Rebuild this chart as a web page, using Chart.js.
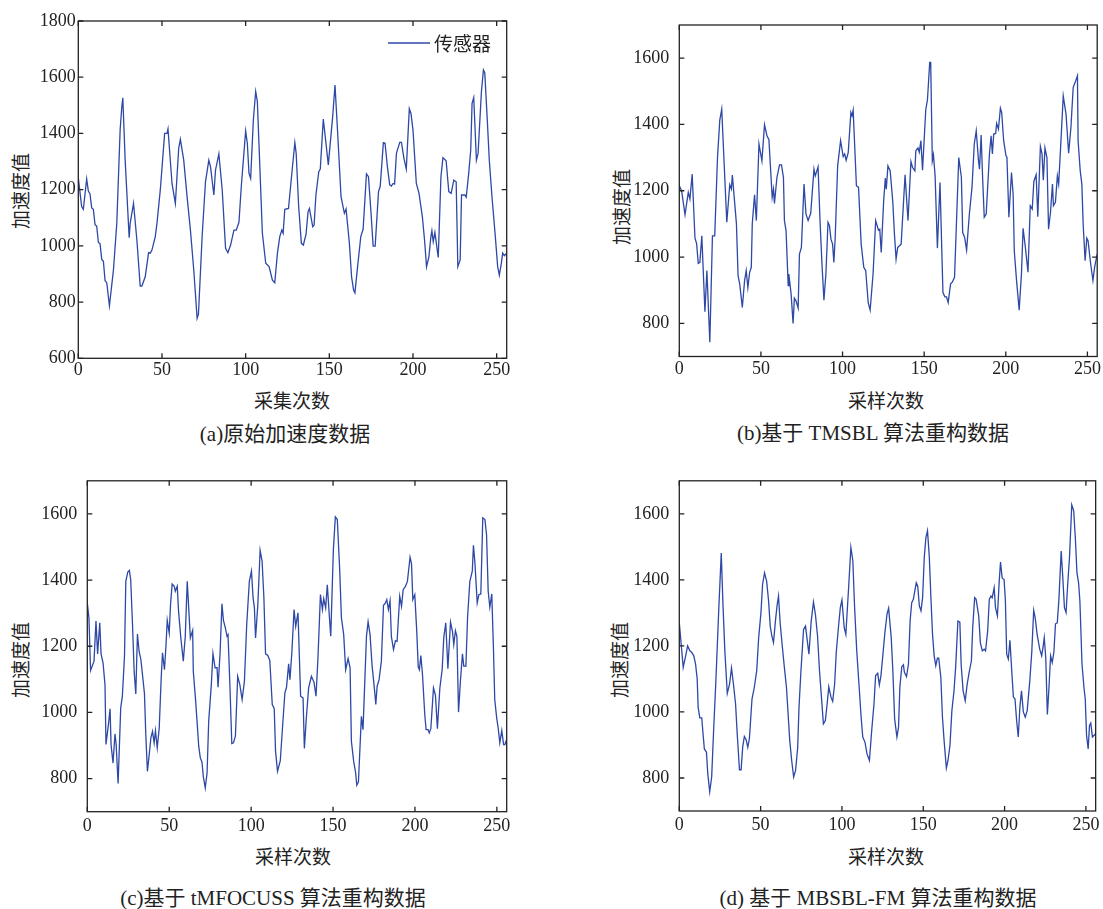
<!DOCTYPE html>
<html><head><meta charset="utf-8">
<script src="https://cdn.jsdelivr.net/npm/chart.js@4.4.1/dist/chart.umd.min.js"></script>
<style>
body{margin:0;width:1103px;height:909px;background:#fff;position:relative;overflow:hidden;font-family:"Liberation Serif","Noto Sans CJK SC",serif;color:#222}
canvas{position:absolute}
.t{position:absolute;transform:translate(-50%,-50%);white-space:nowrap;font-size:19px;line-height:1}
.cap{font-size:21px}
.yt{transform:translate(-50%,-50%) rotate(-90deg)}
</style></head><body>
<div class="t yt" style="left:21px;top:191px">加速度值</div>
<div class="t" style="left:292px;top:401px">采集次数</div>
<div class="t cap" style="left:285px;top:434px">(a)原始加速度数据</div>
<div class="t yt" style="left:622px;top:207px">加速度值</div>
<div class="t" style="left:886px;top:401px">采样次数</div>
<div class="t cap" style="left:873px;top:433px">(b)基于 TMSBL 算法重构数据</div>
<div class="t yt" style="left:21px;top:660px">加速度值</div>
<div class="t" style="left:293px;top:857px">采样次数</div>
<div class="t cap" style="left:273px;top:898px">(c)基于 tMFOCUSS 算法重构数据</div>
<div class="t yt" style="left:620px;top:660px">加速度值</div>
<div class="t" style="left:886px;top:857px">采样次数</div>
<div class="t cap" style="left:878px;top:898px">(d) 基于 MBSBL-FM 算法重构数据</div>
<script>
const xTicks = [0, 50, 100, 150, 200, 250];
const yTicksA = [600, 800, 1000, 1200, 1400, 1600, 1800];
const yTicksB = [800, 1000, 1200, 1400, 1600];
const seriesLabel = "传感器";

const xA = [0,2,3,5,6,7,8,9,10,11,12,13,14,15,16,17,18.6,21,23,25,26,26.6,28,30.4,31,33,35,37,38,40,42,43,44,46,47,49,51.6,53,53.6,56,58,60,61,63,65,67,69,71,71.8,74,76,78,79,81,82,84,86,88,89.4,91,93,94.4,96,97.4,100,101,102,103,104.6,106,107,110,112,114,116,117.4,119,120.4,121.6,122.4,123.4,125.6,127.8,129.4,130.2,131.7,133.3,134.5,136.1,137.3,138.1,140.1,140.9,142,143.7,144.6,146.4,148,149.4,152,153.4,155,157,159,160,162,163.3,164.5,165.3,166.9,168.8,170.2,172.2,173.4,174.8,176.2,177.4,179.4,180.4,182.3,183.3,184.7,186.1,187.1,188.1,189,190.1,192.1,193.1,194.6,196,197.8,198.8,200,202,203.6,205.6,206.9,208.1,209.5,210.7,211.3,212.1,213.1,214.5,215.1,216.7,217.9,219.8,221.4,222.8,224.4,225.8,226.8,228.2,229,231,231.8,233.3,234.5,235.3,236.3,237.9,238.9,240.9,242.1,242.9,244.4,245.6,247.2,249.2,250.6,251.6,252.8,253.6,254.6,256];
const yA = [1242,1140,1130,1238,1195,1185,1135,1130,1075,1070,1012,1008,952,945,876,869,787,914,1080,1412,1495,1527,1305,1029,1080,1151,1021,857,857,890,976,974,985,1033,1080,1199,1400,1400,1416,1222,1151,1347,1379,1305,1175,1056,914,742,757,1033,1228,1305,1282,1181,1270,1327,1199,991,976,1003,1056,1056,1084,1211,1409,1365,1258,1240,1448,1549,1513,1045,938,926,878,869,974,1033,1056,1045,1130,1133,1270,1367,1329,1139,1009,1003,1042,1122,1133,1068,1074,1181,1264,1273,1451,1365,1288,1460,1572,1400,1175,1116,1131,1009,890,843,833,926,1033,1059,1256,1246,1128,999,999,1193,1211,1367,1365,1282,1217,1213,1222,1220,1329,1368,1368,1311,1273,1488,1471,1412,1222,1187,1104,1021,926,961,1033,1054,1015,1048,985,959,1246,1314,1303,1193,1187,1234,1228,926,950,1181,1181,1173,1258,1341,1507,1528,1305,1329,1549,1626,1616,1448,1305,1175,1033,926,896,938,974,965,974];

const xB = [0,1.4,3.5,5.5,6.5,7.9,9.6,10.6,11.6,12.6,13.8,15.7,16.9,18.7,20.3,21.7,23.4,24.8,26,27.4,29.1,30.9,31.9,32.5,35,36,37,38.6,40,41,42,43.1,44.1,44.7,46.1,47.2,48.8,50.6,52.2,53.7,54.9,56.9,57.7,58.3,59.8,61.4,62.6,63.8,64.4,65.4,66.7,67.1,68.5,69.7,70.5,71.5,72.8,73.6,74.8,76.4,77.6,78.9,80.5,82.5,83.3,85,86.2,87.4,88.6,89.8,91.1,92,92.9,93.9,94.7,95.5,97,98.8,100.4,101.3,102.2,103.5,105.1,105.8,106.5,108.5,109.8,111.4,113,114.2,115.7,116.9,118.7,120.3,122,122.8,123.7,125.2,126.2,126.8,127.8,129.2,130.8,131.8,132.8,133.8,135.9,138.3,140.1,141.9,142.9,144.3,144.9,146.2,147,148,149,151,152,153.4,154,155,155.7,156.7,158.1,159.7,161.5,162.7,163.7,164.7,166.2,167.2,168.6,171.2,172.8,173.6,174.8,176,177.7,179.3,180.7,181.9,183.3,183.9,184.9,185.8,186.8,188,190,191,191.8,192.6,193.8,194.4,195.5,196.7,197.5,198.7,200.1,200.7,201.9,203.5,204.5,205.2,206.6,208.2,209.6,210.6,212,213.6,215,216.2,217.2,218.6,219.6,221.2,222.2,223,224,225.2,226.2,227.4,228.6,229.2,230.4,231.6,232.4,233.8,235.2,236.9,238.5,239.9,241.3,242.5,243.9,244.3,245.6,246.6,247.4,248.6,249.6,250.4,252,253.4,254.4,256];
const yB = [1215,1200,1128,1195,1175,1250,1057,1041,981,984,1064,835,959,743,1064,1064,1300,1413,1446,1290,1105,1218,1205,1247,1100,944,919,848,929,959,908,954,969,1100,1188,1110,1341,1290,1399,1366,1354,1180,1205,1162,1240,1278,1278,1240,1110,1079,914,949,888,800,876,868,846,1009,1029,1220,1130,1110,1132,1265,1245,1272,1110,979,870,949,1105,1095,1054,1039,984,1059,1275,1351,1303,1311,1292,1316,1436,1426,1443,1215,1210,1039,969,959,863,840,949,1110,1081,1084,1014,1170,1238,1205,1275,1260,1165,1069,994,1029,1039,1248,1110,1288,1270,1260,1321,1329,1316,1351,1262,1446,1473,1587,1587,1290,1308,1245,1027,1225,893,880,880,863,919,924,939,1300,1240,1074,1059,1021,1130,1210,1341,1381,1290,1265,1368,1240,1120,1130,1311,1366,1311,1371,1373,1403,1386,1449,1436,1351,1306,1301,1120,1255,1190,1019,929,840,949,1087,1029,954,1155,1145,1228,1248,1122,1333,1311,1232,1329,1300,1084,1135,1220,1155,1165,1245,1220,1351,1486,1431,1313,1391,1512,1527,1547,1351,1260,1220,1100,989,1057,1049,979,929,969,1009];

const xC = [0,1,2,4.1,5.3,6.3,7.6,8.4,9.6,10.8,11.4,12.9,13.9,14.5,15.7,16.9,17.6,18.8,20.4,21.4,22.7,23.5,24.7,25.7,26.5,27.6,28.6,29.6,30.6,31.6,32.7,33.9,34.9,35.7,36.7,37.8,38.8,39.8,40.8,41.6,42.7,43.9,45.1,45.9,47.1,48,48.8,50,50.8,51.8,53.1,53.7,54.9,55.7,57.1,58.6,59.8,61,62.9,64.3,64.7,66,67,68,69,70,70.8,72,73.1,74.1,75.7,76.7,78,79.2,79.8,81,82.2,83.1,84.3,85.3,85.9,87.1,88.2,89.2,90.4,91.8,93.1,94.5,95.9,97.3,98.9,100.2,101.2,102,102.7,104.1,105.5,106.7,107.8,108.8,110.2,111.4,112.9,114.1,114.9,116.1,117.8,119,120.6,121.6,122.9,123.7,124.9,126.2,127.2,128.6,130.2,131.7,132.5,133.7,135.1,136.8,138.4,139.6,140.8,142.3,143.5,144.3,145.5,146.5,147.8,148.6,150.2,151.4,152.6,154.1,155.1,156.5,157.7,159.2,160.4,161.2,162.6,163.8,164.5,165.5,167.3,168.3,170.4,171.4,172.6,173.8,175.5,176.1,176.9,178.1,179.5,180.8,182,182.8,183.8,184.8,185.6,186.9,188.1,189.1,190.7,191.8,192.8,194.2,195.4,197,197.9,198.7,199.9,201.1,202,202.7,203.6,204.6,206,206.8,208,208.7,209.7,211.3,212.5,213.7,215.2,216.6,217.6,218.8,220.1,221.7,222.9,223.7,224.7,225.6,226.6,227.8,229,229.8,231.1,232.1,233.5,235,235.7,236.6,238,239,240.2,241.4,242.7,243.7,244.7,245.7,246.9,247.9,248.7,249.9,250.8,251.8,253,254.1,254.9,256];
const yC = [1331,1286,1127,1155,1276,1177,1271,1177,1150,1084,903,963,1011,903,847,935,903,785,1014,1049,1170,1396,1424,1429,1401,1265,1124,1056,1237,1185,1160,1104,1056,933,822,873,923,943,908,945,893,953,1104,1180,1129,1200,1278,1240,1326,1388,1381,1366,1381,1306,1225,1155,1230,1396,1225,1248,1124,1044,973,898,862,850,807,772,817,973,1084,1178,1135,1135,1076,1175,1328,1278,1255,1230,1235,1074,906,908,928,1109,1084,1039,1094,1265,1396,1427,1346,1316,1225,1326,1490,1457,1346,1177,1172,1157,1024,1012,883,822,854,943,1059,1076,1147,1099,1185,1311,1260,1301,1049,1044,891,983,1074,1109,1091,1049,1165,1356,1311,1344,1316,1386,1286,1230,1492,1591,1583,1427,1286,1235,1129,1163,1135,913,852,817,780,790,988,948,1230,1274,1235,1143,1059,1024,1079,1099,1155,1324,1331,1341,1311,1338,1230,1190,1217,1215,1351,1321,1371,1381,1396,1469,1449,1341,1356,1245,1137,1129,1172,1114,993,948,948,938,951,1074,1052,951,1074,1129,1227,1271,1132,1273,1245,1205,1247,1230,1001,1099,1177,1140,1140,1286,1396,1427,1505,1452,1331,1356,1358,1588,1583,1537,1366,1318,1358,1195,1039,983,953,908,945,903,903,918];

const xD = [0,2.4,3.9,5.1,6.5,7.7,8.9,10,11,11.6,12.6,13.8,14.6,15.4,16.7,17.5,18.7,19.9,21.1,22.4,23.4,24.4,25.8,26.8,28,29.5,30.9,32.1,33.3,34.6,35.6,37,38,39,40,41.1,42.1,43.1,44.7,46.1,47.6,48.8,50.2,51.2,52.4,53.7,54.9,55.9,56.9,57.9,59.3,60.2,61,62,63.4,64.6,65.9,66.9,67.9,69.1,70.3,71.5,72.8,73.6,74.8,76.4,77.6,78.7,79.7,81.1,82.5,83.7,85,86.2,87.4,88.6,89.8,90.9,91.9,93.3,94.3,95.5,96.5,98,99,100,101.4,102.4,104.1,105.5,106.7,107.7,109.1,110.6,111.8,112.8,114.2,115.4,116.9,118.3,119.7,120.7,122,123,124,125.3,126.3,127.7,128.7,130.3,131.3,132.4,133.8,134.8,135.6,136.8,137.8,138.4,139.7,140.9,141.9,142.9,143.9,145.7,146.6,147.6,148.6,149.6,150.6,151.6,152.6,153.7,154.7,155.7,156.7,157.7,158.7,159.5,160.8,161.8,162.8,164.2,165.2,166.4,167.6,168.9,169.9,171.3,172.5,173.3,174.5,175.8,177,178.4,179.6,180.4,181.6,182.5,184.1,185.1,186.3,187.5,188.3,189.6,190.6,191.6,192.4,193.6,194.4,195.6,196.7,197.5,198.5,199.7,200.5,201.3,202.3,203.3,204.4,205.4,206.4,207.4,208.4,209.4,210.4,211.5,212.7,213.9,215.5,216.7,217.9,218.8,220,221.6,222.8,223.6,224.4,225.3,226.3,227.3,228.3,229.3,230.3,231.3,232.4,233.4,234.8,235.8,236.8,237.8,238.8,239.9,241.3,242.5,243.5,244.5,245.5,246.3,247.6,248.8,249.6,250.4,251.4,252.2,253,254,256];
const yD = [1270,1135,1170,1200,1185,1180,1170,1145,1100,1014,982,982,934,888,878,813,758,803,944,1084,1205,1326,1481,1331,1185,1056,1084,1133,1084,1024,934,825,825,895,926,916,893,919,1039,1074,1125,1225,1300,1386,1421,1396,1336,1260,1230,1210,1285,1326,1351,1270,1195,1135,1074,994,914,853,803,823,893,1014,1125,1250,1260,1215,1175,1275,1333,1295,1230,1125,1044,964,974,1024,1076,1044,1032,1084,1180,1265,1316,1339,1255,1235,1376,1498,1458,1326,1185,1074,984,924,908,873,853,944,1024,1110,1117,1082,1110,1180,1235,1296,1314,1225,1125,979,924,954,1074,1137,1143,1120,1107,1145,1275,1331,1341,1391,1381,1321,1306,1346,1467,1527,1549,1471,1346,1235,1170,1140,1163,1163,1105,984,914,830,853,898,1004,1064,1135,1275,1272,1143,1064,1034,1084,1125,1155,1255,1346,1341,1291,1210,1185,1190,1185,1245,1341,1351,1346,1376,1316,1291,1396,1454,1406,1401,1336,1175,1160,1217,1125,1046,1039,974,924,1014,1064,1001,984,1004,1094,1180,1308,1286,1235,1190,1170,1195,1225,1165,992,1074,1170,1150,1180,1267,1270,1341,1487,1406,1316,1301,1386,1467,1627,1609,1527,1421,1391,1336,1145,1074,1039,929,888,959,966,924,934];

const LINE = '#2d48a6';
const INK = '#222';
const TICKFONT = {family: '"Liberation Serif", "Times New Roman", serif', size: 18};

const framePlugin = {
  id: 'frame',
  afterDraw(chart, args, opts) {
    const {ctx, chartArea: a, scales: {x, y}} = chart;
    ctx.save();
    ctx.strokeStyle = INK;
    ctx.lineWidth = 1.3;
    ctx.strokeRect(a.left, a.top, a.right - a.left, a.bottom - a.top);
    ctx.beginPath();
    x.ticks.forEach(t => {
      const p = x.getPixelForValue(t.value);
      ctx.moveTo(p, a.bottom); ctx.lineTo(p, a.bottom - 5);
      ctx.moveTo(p, a.top); ctx.lineTo(p, a.top + 5);
    });
    y.ticks.forEach(t => {
      const p = y.getPixelForValue(t.value);
      ctx.moveTo(a.left, p); ctx.lineTo(a.left + 5, p);
      ctx.moveTo(a.right, p); ctx.lineTo(a.right - 5, p);
    });
    ctx.stroke();
    if (opts && opts.legend) {
      const ds = chart.data.datasets[0];
      const lx = opts.legend.x, ly = opts.legend.y;
      ctx.strokeStyle = ds.borderColor;
      ctx.lineWidth = 1.3;
      ctx.beginPath(); ctx.moveTo(lx, ly); ctx.lineTo(lx + 42, ly); ctx.stroke();
      ctx.fillStyle = INK;
      ctx.font = '19px "Noto Sans CJK SC"';
      ctx.textBaseline = 'middle';
      ctx.textAlign = 'left';
      ctx.fillText(ds.label, lx + 46, ly + 1);
    }
    ctx.restore();
  }
};

function makeChart(g, xs, ys, yTicks, yMin, yMax, padY, padX, legend) {
  const cv = document.createElement('canvas');
  cv.width = g.w; cv.height = g.h;
  cv.style.left = g.left + 'px'; cv.style.top = g.top + 'px';
  cv.style.width = g.w + 'px'; cv.style.height = g.h + 'px';
  document.body.appendChild(cv);
  new Chart(cv, {
    type: 'line',
    data: {datasets: [{
      label: seriesLabel,
      data: xs.map((x, i) => ({x: x, y: ys[i]})),
      borderColor: LINE, borderWidth: 1.3, pointRadius: 0, tension: 0, fill: false
    }]},
    options: {
      responsive: false, animation: false, devicePixelRatio: 1,
      layout: {padding: {top: g.pt - g.top, right: g.left + g.w - g.pr, left: 0, bottom: 0}},
      plugins: {legend: {display: false}, tooltip: {enabled: false}, frame: {legend: legend}},
      scales: {
        x: {
          type: 'linear', min: 0, max: 256,
          grid: {display: false, drawTicks: false}, border: {display: false},
          afterBuildTicks: s => { s.ticks = xTicks.map(v => ({value: v})); },
          afterFit: s => { s.height = g.top + g.h - g.pb; },
          ticks: {padding: padX, font: TICKFONT, color: INK, maxRotation: 0, autoSkip: false, callback: v => String(v)}
        },
        y: {
          type: 'linear', min: yMin, max: yMax,
          grid: {display: false, drawTicks: false}, border: {display: false},
          afterBuildTicks: s => { s.ticks = yTicks.map(v => ({value: v})); },
          afterFit: s => { s.width = g.pl - g.left; },
          ticks: {padding: padY, font: TICKFONT, color: INK, autoSkip: false, callback: v => String(v)}
        }
      }
    },
    plugins: [framePlugin]
  });
}

makeChart({left: 0, top: 0, w: 540, h: 385, pl: 78.3, pt: 21, pr: 506.7, pb: 358.3}, xA, yA, yTicksA, 600, 1800, 2.5, 1, {x: 388, y: 43});
makeChart({left: 560, top: 0, w: 543, h: 385, pl: 679.3, pt: 25, pr: 1099, pb: 356.5}, xB, yB, yTicksB, 700, 1700, 10, 2, null);
makeChart({left: 0, top: 460, w: 540, h: 385, pl: 87.3, pt: 480, pr: 506.7, pb: 811.7}, xC, yC, yTicksB, 700, 1700, 10, 3.5, null);
makeChart({left: 560, top: 460, w: 543, h: 385, pl: 679.3, pt: 479.5, pr: 1099, pb: 811}, xD, yD, yTicksB, 700, 1700, 10, 3.5, null);
</script>
</body></html>
